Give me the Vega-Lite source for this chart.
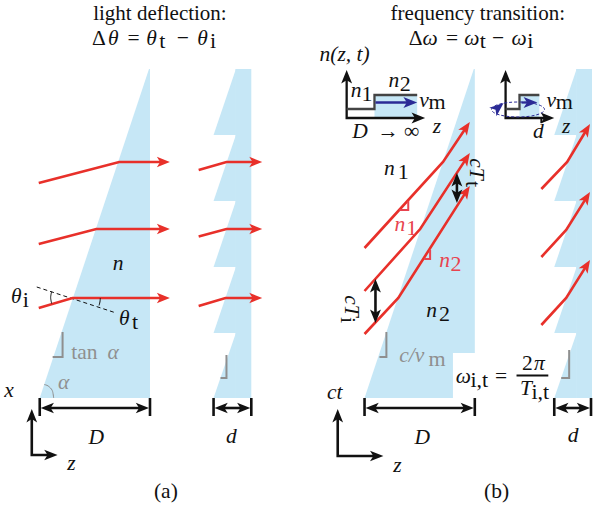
{
  "$schema": "https://vega.github.io/schema/vega-lite/v6.json",
  "width": 597,
  "height": 514,
  "autosize": {"type": "fit", "contains": "padding"},
  "padding": 0,
  "background": "white",
  "config": {"view": {"stroke": null}},
  "resolve": {"scale": {"size": "independent", "angle": "independent", "strokeWidth": "independent"}},
  "datasets": {
    "tri": [
      {"id": "wa", "x": 40, "y": 398, "y2": 398},
      {"id": "wa", "x": 150, "y": 69, "y2": 398},
      {"id": "wa", "x": 151, "y": 69, "y2": 398},
      {"id": "wb", "x": 367, "y": 398, "y2": 398},
      {"id": "wb", "x": 477, "y": 69, "y2": 398},
      {"id": "wb", "x": 478, "y": 69, "y2": 398},
      {"id": "ta1", "x": 215, "y": 135, "y2": 135},
      {"id": "ta1", "x": 237.5, "y": 69, "y2": 135},
      {"id": "ta2", "x": 215, "y": 201, "y2": 201},
      {"id": "ta2", "x": 237.5, "y": 135, "y2": 201},
      {"id": "ta3", "x": 215, "y": 267, "y2": 267},
      {"id": "ta3", "x": 237.5, "y": 201, "y2": 267},
      {"id": "ta4", "x": 215, "y": 333, "y2": 333},
      {"id": "ta4", "x": 237.5, "y": 267, "y2": 333},
      {"id": "ta5", "x": 215, "y": 398, "y2": 398},
      {"id": "ta5", "x": 237.5, "y": 333, "y2": 398},
      {"id": "tb1", "x": 558, "y": 135, "y2": 135},
      {"id": "tb1", "x": 580.5, "y": 69, "y2": 135},
      {"id": "tb2", "x": 558, "y": 201, "y2": 201},
      {"id": "tb2", "x": 580.5, "y": 135, "y2": 201},
      {"id": "tb3", "x": 558, "y": 267, "y2": 267},
      {"id": "tb3", "x": 580.5, "y": 201, "y2": 267},
      {"id": "tb4", "x": 558, "y": 333, "y2": 333},
      {"id": "tb4", "x": 580.5, "y": 267, "y2": 333},
      {"id": "tb5", "x": 558, "y": 398, "y2": 398},
      {"id": "tb5", "x": 580.5, "y": 333, "y2": 398}
    ],
    "rects": [
      {"x": 237, "x2": 253, "y": 69, "y2": 398, "c": "blue"},
      {"x": 580, "x2": 596, "y": 69, "y2": 398, "c": "blue"},
      {"x": 377, "x2": 420, "y": 95, "y2": 118, "c": "blue"},
      {"x": 523, "x2": 543, "y": 95, "y2": 118, "c": "blue"},
      {"x": 456, "x2": 555, "y": 353, "y2": 401, "c": "white"}
    ],
    "dashes": [
      {"id": "n", "o": 1, "x": 37, "y": 287},
      {"id": "n", "o": 2, "x": 117, "y": 313}
    ],
    "lines": [
      {"id": "a1", "o": 1, "x": 39, "y": 183, "c": "red", "w": "thick"},
      {"id": "a1", "o": 2, "x": 120, "y": 162, "c": "red", "w": "thick"},
      {"id": "a1", "o": 3, "x": 164, "y": 162, "c": "red", "w": "thick"},
      {"id": "a2", "o": 1, "x": 39, "y": 244, "c": "red", "w": "thick"},
      {"id": "a2", "o": 2, "x": 97, "y": 229, "c": "red", "w": "thick"},
      {"id": "a2", "o": 3, "x": 164, "y": 229, "c": "red", "w": "thick"},
      {"id": "a3", "o": 1, "x": 39, "y": 308, "c": "red", "w": "thick"},
      {"id": "a3", "o": 2, "x": 73, "y": 298, "c": "red", "w": "thick"},
      {"id": "a3", "o": 3, "x": 164, "y": 298, "c": "red", "w": "thick"},
      {"id": "a4", "o": 1, "x": 200, "y": 170, "c": "red", "w": "thick"},
      {"id": "a4", "o": 2, "x": 228, "y": 162, "c": "red", "w": "thick"},
      {"id": "a4", "o": 3, "x": 257, "y": 162, "c": "red", "w": "thick"},
      {"id": "a5", "o": 1, "x": 200, "y": 236.5, "c": "red", "w": "thick"},
      {"id": "a5", "o": 2, "x": 228, "y": 229, "c": "red", "w": "thick"},
      {"id": "a5", "o": 3, "x": 257, "y": 229, "c": "red", "w": "thick"},
      {"id": "a6", "o": 1, "x": 200, "y": 306, "c": "red", "w": "thick"},
      {"id": "a6", "o": 2, "x": 227, "y": 298, "c": "red", "w": "thick"},
      {"id": "a6", "o": 3, "x": 257, "y": 298, "c": "red", "w": "thick"},
      {"id": "b1", "o": 1, "x": 367, "y": 248, "c": "red", "w": "thick"},
      {"id": "b1", "o": 2, "x": 446, "y": 162, "c": "red", "w": "thick"},
      {"id": "b1", "o": 3, "x": 469.1, "y": 127.8, "c": "red", "w": "thick"},
      {"id": "b2", "o": 1, "x": 367, "y": 291, "c": "red", "w": "thick"},
      {"id": "b2", "o": 2, "x": 423, "y": 229, "c": "red", "w": "thick"},
      {"id": "b2", "o": 3, "x": 469.2, "y": 158.9, "c": "red", "w": "thick"},
      {"id": "b3", "o": 1, "x": 367, "y": 334, "c": "red", "w": "thick"},
      {"id": "b3", "o": 2, "x": 401, "y": 298, "c": "red", "w": "thick"},
      {"id": "b3", "o": 3, "x": 469.2, "y": 191.9, "c": "red", "w": "thick"},
      {"id": "c1", "o": 1, "x": 545, "y": 189, "c": "red", "w": "thick"},
      {"id": "c1", "o": 2, "x": 571, "y": 162, "c": "red", "w": "thick"},
      {"id": "c1", "o": 3, "x": 590.4, "y": 130, "c": "red", "w": "thick"},
      {"id": "c2", "o": 1, "x": 545, "y": 257, "c": "red", "w": "thick"},
      {"id": "c2", "o": 2, "x": 570, "y": 230, "c": "red", "w": "thick"},
      {"id": "c2", "o": 3, "x": 590.3, "y": 197.9, "c": "red", "w": "thick"},
      {"id": "c3", "o": 1, "x": 545, "y": 325, "c": "red", "w": "thick"},
      {"id": "c3", "o": 2, "x": 570, "y": 298, "c": "red", "w": "thick"},
      {"id": "c3", "o": 3, "x": 590.3, "y": 265.9, "c": "red", "w": "thick"},
      {"id": "Da", "o": 1, "x": 47, "y": 408, "c": "k", "w": "thick"},
      {"id": "Da", "o": 2, "x": 144, "y": 408, "c": "k", "w": "thick"},
      {"id": "Dat1", "o": 1, "x": 40, "y": 398, "c": "k", "w": "thick"},
      {"id": "Dat1", "o": 2, "x": 40, "y": 416, "c": "k", "w": "thick"},
      {"id": "Dat2", "o": 1, "x": 151, "y": 398, "c": "k", "w": "thick"},
      {"id": "Dat2", "o": 2, "x": 151, "y": 416, "c": "k", "w": "thick"},
      {"id": "da", "o": 1, "x": 222, "y": 408, "c": "k", "w": "thick"},
      {"id": "da", "o": 2, "x": 246, "y": 408, "c": "k", "w": "thick"},
      {"id": "dat1", "o": 1, "x": 215, "y": 398, "c": "k", "w": "thick"},
      {"id": "dat1", "o": 2, "x": 215, "y": 416, "c": "k", "w": "thick"},
      {"id": "dat2", "o": 1, "x": 253, "y": 398, "c": "k", "w": "thick"},
      {"id": "dat2", "o": 2, "x": 253, "y": 416, "c": "k", "w": "thick"},
      {"id": "Db", "o": 1, "x": 374, "y": 408, "c": "k", "w": "thick"},
      {"id": "Db", "o": 2, "x": 471, "y": 408, "c": "k", "w": "thick"},
      {"id": "Dbt1", "o": 1, "x": 367, "y": 398, "c": "k", "w": "thick"},
      {"id": "Dbt1", "o": 2, "x": 367, "y": 416, "c": "k", "w": "thick"},
      {"id": "Dbt2", "o": 1, "x": 478, "y": 398, "c": "k", "w": "thick"},
      {"id": "Dbt2", "o": 2, "x": 478, "y": 416, "c": "k", "w": "thick"},
      {"id": "db", "o": 1, "x": 565, "y": 408, "c": "k", "w": "thick"},
      {"id": "db", "o": 2, "x": 588, "y": 408, "c": "k", "w": "thick"},
      {"id": "dbt1", "o": 1, "x": 558, "y": 398, "c": "k", "w": "thick"},
      {"id": "dbt1", "o": 2, "x": 558, "y": 416, "c": "k", "w": "thick"},
      {"id": "dbt2", "o": 1, "x": 595, "y": 398, "c": "k", "w": "thick"},
      {"id": "dbt2", "o": 2, "x": 595, "y": 416, "c": "k", "w": "thick"},
      {"id": "axa", "o": 1, "x": 32, "y": 416, "c": "k", "w": "thick"},
      {"id": "axa", "o": 2, "x": 32, "y": 455, "c": "k", "w": "thick"},
      {"id": "axa", "o": 3, "x": 51, "y": 455, "c": "k", "w": "thick"},
      {"id": "axb", "o": 1, "x": 340, "y": 416, "c": "k", "w": "thick"},
      {"id": "axb", "o": 2, "x": 340, "y": 456, "c": "k", "w": "thick"},
      {"id": "axb", "o": 3, "x": 379, "y": 456, "c": "k", "w": "thick"},
      {"id": "cTt", "o": 1, "x": 460, "y": 178, "c": "k", "w": "thick"},
      {"id": "cTt", "o": 2, "x": 460, "y": 198, "c": "k", "w": "thick"},
      {"id": "cTi", "o": 1, "x": 378, "y": 284, "c": "k", "w": "thick"},
      {"id": "cTi", "o": 2, "x": 378, "y": 318, "c": "k", "w": "thick"},
      {"id": "ia1", "o": 1, "x": 349, "y": 75, "c": "k", "w": "mid"},
      {"id": "ia1", "o": 2, "x": 349, "y": 118, "c": "k", "w": "mid"},
      {"id": "ia1", "o": 3, "x": 423, "y": 118, "c": "k", "w": "mid"},
      {"id": "ia2", "o": 1, "x": 509, "y": 75, "c": "k", "w": "mid"},
      {"id": "ia2", "o": 2, "x": 509, "y": 118, "c": "k", "w": "mid"},
      {"id": "ia2", "o": 3, "x": 553, "y": 118, "c": "k", "w": "mid"},
      {"id": "itk", "o": 1, "x": 545, "y": 118, "c": "k", "w": "thin"},
      {"id": "itk", "o": 2, "x": 545, "y": 123, "c": "k", "w": "thin"},
      {"id": "s1", "o": 1, "x": 349, "y": 109, "c": "dgray", "w": "mid"},
      {"id": "s1", "o": 2, "x": 377, "y": 109, "c": "dgray", "w": "mid"},
      {"id": "s1", "o": 3, "x": 377, "y": 95, "c": "dgray", "w": "mid"},
      {"id": "s1", "o": 4, "x": 420, "y": 95, "c": "dgray", "w": "mid"},
      {"id": "s2", "o": 1, "x": 509, "y": 109, "c": "dgray", "w": "mid"},
      {"id": "s2", "o": 2, "x": 523, "y": 109, "c": "dgray", "w": "mid"},
      {"id": "s2", "o": 3, "x": 523, "y": 95, "c": "dgray", "w": "mid"},
      {"id": "s2", "o": 4, "x": 543, "y": 95, "c": "dgray", "w": "mid"},
      {"id": "nv1", "o": 1, "x": 378, "y": 102.5, "c": "navy", "w": "mid"},
      {"id": "nv1", "o": 2, "x": 415, "y": 102.5, "c": "navy", "w": "mid"},
      {"id": "nv2", "o": 1, "x": 525, "y": 102.5, "c": "navy", "w": "mid"},
      {"id": "nv2", "o": 2, "x": 537, "y": 102.5, "c": "navy", "w": "mid"},
      {"id": "g1", "o": 1, "x": 63, "y": 332, "c": "gray", "w": "thin"},
      {"id": "g1", "o": 2, "x": 63, "y": 357, "c": "gray", "w": "thin"},
      {"id": "g1", "o": 3, "x": 53, "y": 357, "c": "gray", "w": "thin"},
      {"id": "g2", "o": 1, "x": 228, "y": 355, "c": "gray", "w": "thin"},
      {"id": "g2", "o": 2, "x": 228, "y": 378, "c": "gray", "w": "thin"},
      {"id": "g2", "o": 3, "x": 222, "y": 378, "c": "gray", "w": "thin"},
      {"id": "g3", "o": 1, "x": 389, "y": 332, "c": "gray", "w": "thin"},
      {"id": "g3", "o": 2, "x": 389, "y": 357, "c": "gray", "w": "thin"},
      {"id": "g3", "o": 3, "x": 382, "y": 357, "c": "gray", "w": "thin"},
      {"id": "g4", "o": 1, "x": 573, "y": 350, "c": "gray", "w": "thin"},
      {"id": "g4", "o": 2, "x": 573, "y": 378, "c": "gray", "w": "thin"},
      {"id": "g4", "o": 3, "x": 565, "y": 378, "c": "gray", "w": "thin"},
      {"id": "rm1", "o": 1, "x": 411, "y": 201, "c": "rlab", "w": "thin"},
      {"id": "rm1", "o": 2, "x": 411, "y": 210, "c": "rlab", "w": "thin"},
      {"id": "rm1", "o": 3, "x": 402, "y": 210, "c": "rlab", "w": "thin"},
      {"id": "rm2", "o": 1, "x": 433, "y": 250, "c": "rlab", "w": "thin"},
      {"id": "rm2", "o": 2, "x": 433, "y": 259, "c": "rlab", "w": "thin"},
      {"id": "rm2", "o": 3, "x": 427, "y": 259, "c": "rlab", "w": "thin"},
      {"id": "fb", "o": 1, "x": 520, "y": 375.5, "c": "k", "w": "thin"},
      {"id": "fb", "o": 2, "x": 552, "y": 375.5, "c": "k", "w": "thin"}
    ],
    "arcs": [
      {"id": "ti", "o": 1, "x": 52, "y": 291.5, "c": "k"},
      {"id": "ti", "o": 2, "x": 51, "y": 297.5, "c": "k"},
      {"id": "ti", "o": 3, "x": 52, "y": 303.5, "c": "k"},
      {"id": "tt", "o": 1, "x": 101, "y": 298, "c": "k"},
      {"id": "tt", "o": 2, "x": 100.6, "y": 302, "c": "k"},
      {"id": "tt", "o": 3, "x": 99.7, "y": 305.5, "c": "k"},
      {"id": "al", "o": 1, "x": 54, "y": 398, "c": "gray"},
      {"id": "al", "o": 2, "x": 52.6, "y": 390.5, "c": "gray"},
      {"id": "al", "o": 3, "x": 48.5, "y": 386, "c": "gray"},
      {"id": "al", "o": 4, "x": 44.5, "y": 384.5, "c": "gray"}
    ],
    "heads": [
      {"x": 171, "y": 162, "d": 0, "k": "r", "c": "red"},
      {"x": 171, "y": 229, "d": 0, "k": "r", "c": "red"},
      {"x": 171, "y": 298, "d": 0, "k": "r", "c": "red"},
      {"x": 264, "y": 162, "d": 0, "k": "r", "c": "red"},
      {"x": 264, "y": 229, "d": 0, "k": "r", "c": "red"},
      {"x": 264, "y": 298, "d": 0, "k": "r", "c": "red"},
      {"x": 473, "y": 122, "d": 304, "k": "r", "c": "red"},
      {"x": 473, "y": 153, "d": 303, "k": "r", "c": "red"},
      {"x": 473, "y": 186, "d": 303, "k": "r", "c": "red"},
      {"x": 594, "y": 124, "d": 301, "k": "r", "c": "red"},
      {"x": 594, "y": 192, "d": 302, "k": "r", "c": "red"},
      {"x": 594, "y": 260, "d": 302, "k": "r", "c": "red"},
      {"x": 41, "y": 408, "d": 180, "k": "dim", "c": "k"},
      {"x": 150, "y": 408, "d": 0, "k": "dim", "c": "k"},
      {"x": 216, "y": 408, "d": 180, "k": "dim", "c": "k"},
      {"x": 252, "y": 408, "d": 0, "k": "dim", "c": "k"},
      {"x": 368, "y": 408, "d": 180, "k": "dim", "c": "k"},
      {"x": 477, "y": 408, "d": 0, "k": "dim", "c": "k"},
      {"x": 559, "y": 408, "d": 180, "k": "dim", "c": "k"},
      {"x": 594, "y": 408, "d": 0, "k": "dim", "c": "k"},
      {"x": 32, "y": 409, "d": 270, "k": "ax", "c": "k"},
      {"x": 58, "y": 455, "d": 0, "k": "ax", "c": "k"},
      {"x": 340, "y": 409, "d": 270, "k": "ax", "c": "k"},
      {"x": 386, "y": 456, "d": 0, "k": "ax", "c": "k"},
      {"x": 349, "y": 70, "d": 270, "k": "sm", "c": "k"},
      {"x": 428, "y": 118, "d": 0, "k": "sm", "c": "k"},
      {"x": 509, "y": 70, "d": 270, "k": "sm", "c": "k"},
      {"x": 558, "y": 118, "d": 0, "k": "sm", "c": "k"},
      {"x": 460, "y": 173, "d": 270, "k": "sm", "c": "k"},
      {"x": 460, "y": 203, "d": 90, "k": "sm", "c": "k"},
      {"x": 378, "y": 279, "d": 270, "k": "sm", "c": "k"},
      {"x": 378, "y": 323, "d": 90, "k": "sm", "c": "k"},
      {"x": 420, "y": 102.5, "d": 0, "k": "bl", "c": "navy"},
      {"x": 541, "y": 102.5, "d": 0, "k": "bl", "c": "navy"},
      {"x": 507, "y": 103, "d": 320, "k": "tiny", "c": "navy"}
    ],
    "ell": [{"x": 521.5, "y": 109.5}],
    "labels": [
      {"t": "light deflection:", "x": 161, "y": 20, "s": "r", "k": "title", "c": "k", "a": 0},
      {"t": "frequency transition:", "x": 481, "y": 20, "s": "r", "k": "title", "c": "k", "a": 0},
      {"t": "Δ", "x": 99.5, "y": 45, "s": "r", "k": "main", "c": "k", "a": 0},
      {"t": "θ", "x": 114, "y": 45, "s": "i", "k": "main", "c": "k", "a": 0},
      {"t": "=", "x": 134.5, "y": 45, "s": "r", "k": "main", "c": "k", "a": 0},
      {"t": "θ", "x": 152.5, "y": 45, "s": "i", "k": "main", "c": "k", "a": 0},
      {"t": "t", "x": 163.5, "y": 48, "s": "r", "k": "sub", "c": "k", "a": 0},
      {"t": "−", "x": 184, "y": 45, "s": "r", "k": "main", "c": "k", "a": 0},
      {"t": "θ", "x": 204, "y": 45, "s": "i", "k": "main", "c": "k", "a": 0},
      {"t": "i", "x": 214.5, "y": 48, "s": "r", "k": "sub", "c": "k", "a": 0},
      {"t": "Δ", "x": 418.5, "y": 45, "s": "r", "k": "main", "c": "k", "a": 0},
      {"t": "ω", "x": 433, "y": 45, "s": "i", "k": "main", "c": "k", "a": 0},
      {"t": "=", "x": 455, "y": 45, "s": "r", "k": "main", "c": "k", "a": 0},
      {"t": "ω", "x": 475, "y": 45, "s": "i", "k": "main", "c": "k", "a": 0},
      {"t": "t", "x": 486, "y": 48, "s": "r", "k": "sub", "c": "k", "a": 0},
      {"t": "−", "x": 501.5, "y": 45, "s": "r", "k": "main", "c": "k", "a": 0},
      {"t": "ω", "x": 522.5, "y": 45, "s": "i", "k": "main", "c": "k", "a": 0},
      {"t": "i", "x": 534, "y": 48, "s": "r", "k": "sub", "c": "k", "a": 0},
      {"t": "n", "x": 119, "y": 270, "s": "i", "k": "main", "c": "k", "a": 0},
      {"t": "θ", "x": 16.5, "y": 303, "s": "i", "k": "main", "c": "k", "a": 0},
      {"t": "i", "x": 26, "y": 307, "s": "r", "k": "sub", "c": "k", "a": 0},
      {"t": "θ", "x": 125, "y": 325, "s": "i", "k": "main", "c": "k", "a": 0},
      {"t": "t", "x": 136, "y": 329, "s": "r", "k": "sub", "c": "k", "a": 0},
      {"t": "tan", "x": 85, "y": 359, "s": "r", "k": "main", "c": "gray", "a": 0},
      {"t": "α", "x": 114, "y": 359, "s": "i", "k": "main", "c": "gray", "a": 0},
      {"t": "α", "x": 64, "y": 389, "s": "i", "k": "main", "c": "gray", "a": 0},
      {"t": "x", "x": 9, "y": 397, "s": "i", "k": "main", "c": "k", "a": 0},
      {"t": "z", "x": 72, "y": 470, "s": "i", "k": "main", "c": "k", "a": 0},
      {"t": "D", "x": 97, "y": 444, "s": "i", "k": "main", "c": "k", "a": 0},
      {"t": "d", "x": 233, "y": 443, "s": "i", "k": "main", "c": "k", "a": 0},
      {"t": "(a)", "x": 167, "y": 498, "s": "r", "k": "main", "c": "k", "a": 0},
      {"t": "n(z, t)", "x": 347, "y": 61, "s": "i", "k": "main", "c": "k", "a": 0},
      {"t": "n", "x": 358.5, "y": 97, "s": "i", "k": "main", "c": "k", "a": 0},
      {"t": "1", "x": 369.5, "y": 101, "s": "r", "k": "sub", "c": "k", "a": 0},
      {"t": "n", "x": 396.5, "y": 87, "s": "i", "k": "main", "c": "k", "a": 0},
      {"t": "2", "x": 408, "y": 91, "s": "r", "k": "sub", "c": "k", "a": 0},
      {"t": "v", "x": 427, "y": 107, "s": "i", "k": "main", "c": "k", "a": 0},
      {"t": "m", "x": 440, "y": 109, "s": "r", "k": "sub", "c": "k", "a": 0},
      {"t": "z", "x": 440, "y": 133, "s": "i", "k": "main", "c": "k", "a": 0},
      {"t": "D", "x": 362.5, "y": 138, "s": "i", "k": "main", "c": "k", "a": 0},
      {"t": "→ ∞", "x": 401, "y": 138, "s": "r", "k": "main", "c": "k", "a": 0},
      {"t": "v", "x": 555, "y": 107, "s": "i", "k": "main", "c": "k", "a": 0},
      {"t": "m", "x": 568, "y": 109, "s": "r", "k": "sub", "c": "k", "a": 0},
      {"t": "z", "x": 570, "y": 133, "s": "i", "k": "main", "c": "k", "a": 0},
      {"t": "d", "x": 542, "y": 138, "s": "i", "k": "main", "c": "k", "a": 0},
      {"t": "n", "x": 392, "y": 175, "s": "i", "k": "main", "c": "k", "a": 0},
      {"t": "1", "x": 406, "y": 179, "s": "r", "k": "sub", "c": "k", "a": 0},
      {"t": "n", "x": 402.5, "y": 231, "s": "i", "k": "main", "c": "rlab", "a": 0},
      {"t": "1", "x": 414.5, "y": 235, "s": "r", "k": "sub", "c": "rlab", "a": 0},
      {"t": "n", "x": 447.5, "y": 267, "s": "i", "k": "main", "c": "rlab", "a": 0},
      {"t": "2", "x": 459, "y": 271, "s": "r", "k": "sub", "c": "rlab", "a": 0},
      {"t": "n", "x": 434.5, "y": 317, "s": "i", "k": "main", "c": "k", "a": 0},
      {"t": "2", "x": 447.5, "y": 321, "s": "r", "k": "sub", "c": "k", "a": 0},
      {"t": "cT", "x": 473, "y": 169, "s": "i", "k": "main", "c": "k", "a": 90},
      {"t": "t", "x": 469, "y": 184, "s": "r", "k": "sub", "c": "k", "a": 90},
      {"t": "cT", "x": 347, "y": 306, "s": "i", "k": "main", "c": "k", "a": 90},
      {"t": "i", "x": 343, "y": 320, "s": "r", "k": "sub", "c": "k", "a": 90},
      {"t": "c/v", "x": 414.5, "y": 362, "s": "i", "k": "main", "c": "gray", "a": 0},
      {"t": "m", "x": 440, "y": 366, "s": "r", "k": "sub", "c": "gray", "a": 0},
      {"t": "ω", "x": 466.5, "y": 383, "s": "i", "k": "main", "c": "k", "a": 0},
      {"t": "i,t", "x": 482.5, "y": 387, "s": "r", "k": "sub", "c": "k", "a": 0},
      {"t": "=", "x": 504.5, "y": 383, "s": "r", "k": "main", "c": "k", "a": 0},
      {"t": "2", "x": 531, "y": 370, "s": "r", "k": "main", "c": "k", "a": 0},
      {"t": "π", "x": 543, "y": 370, "s": "i", "k": "main", "c": "k", "a": 0},
      {"t": "T", "x": 529.5, "y": 395, "s": "i", "k": "main", "c": "k", "a": 0},
      {"t": "i,t", "x": 544, "y": 399, "s": "r", "k": "sub", "c": "k", "a": 0},
      {"t": "ct", "x": 337, "y": 399, "s": "i", "k": "main", "c": "k", "a": 0},
      {"t": "z", "x": 400, "y": 472, "s": "i", "k": "main", "c": "k", "a": 0},
      {"t": "D", "x": 425, "y": 444, "s": "i", "k": "main", "c": "k", "a": 0},
      {"t": "d", "x": 577, "y": 442, "s": "i", "k": "main", "c": "k", "a": 0},
      {"t": "(b)", "x": 500, "y": 498, "s": "r", "k": "main", "c": "k", "a": 0}
    ]
  },
  "layer": [
    {
      "data": {"name": "tri"},
      "mark": {"type": "area", "color": "#c6e7f6", "opacity": 1, "line": false},
      "encoding": {
        "x": {"field": "x", "type": "quantitative", "scale": {"domain": [0, 597], "nice": false, "zero": false}, "axis": null},
        "y": {"field": "y", "type": "quantitative", "stack": null, "scale": {"domain": [0, 514], "nice": false, "zero": false, "reverse": true}, "axis": null},
        "y2": {"field": "y2"},
        "detail": {"field": "id", "type": "nominal"}
      }
    },
    {
      "data": {"name": "rects"},
      "mark": {"type": "rect"},
      "encoding": {
        "x": {"field": "x", "type": "quantitative", "scale": {"domain": [0, 597], "nice": false, "zero": false}, "axis": null},
        "x2": {"field": "x2"},
        "y": {"field": "y", "type": "quantitative", "scale": {"domain": [0, 514], "nice": false, "zero": false, "reverse": true}, "axis": null},
        "y2": {"field": "y2"},
        "color": {"field": "c", "type": "nominal", "scale": {"domain": ["k", "gray", "red", "rlab", "navy", "dgray", "blue", "white"], "range": ["#111111", "#8f8f8f", "#e8302a", "#e8434f", "#2b2b96", "#444444", "#c6e7f6", "#ffffff"]}, "legend": null}
      }
    },
    {
      "data": {"name": "dashes"},
      "mark": {"type": "line", "strokeDash": [4, 3], "strokeWidth": 1, "color": "#111111"},
      "encoding": {
        "x": {"field": "x", "type": "quantitative", "scale": {"domain": [0, 597], "nice": false, "zero": false}, "axis": null},
        "y": {"field": "y", "type": "quantitative", "scale": {"domain": [0, 514], "nice": false, "zero": false, "reverse": true}, "axis": null},
        "detail": {"field": "id", "type": "nominal"},
        "order": {"field": "o", "type": "quantitative"}
      }
    },
    {
      "data": {"name": "lines"},
      "mark": {"type": "line", "strokeJoin": "miter"},
      "encoding": {
        "x": {"field": "x", "type": "quantitative", "scale": {"domain": [0, 597], "nice": false, "zero": false}, "axis": null},
        "y": {"field": "y", "type": "quantitative", "scale": {"domain": [0, 514], "nice": false, "zero": false, "reverse": true}, "axis": null},
        "detail": {"field": "id", "type": "nominal"},
        "order": {"field": "o", "type": "quantitative"},
        "color": {"field": "c", "type": "nominal", "scale": {"domain": ["k", "gray", "red", "rlab", "navy", "dgray", "blue", "white"], "range": ["#111111", "#8f8f8f", "#e8302a", "#e8434f", "#2b2b96", "#444444", "#c6e7f6", "#ffffff"]}, "legend": null},
        "strokeWidth": {"field": "w", "type": "ordinal", "scale": {"domain": ["thick", "mid", "thin"], "range": [2.6, 2, 1.2]}, "legend": null}
      }
    },
    {
      "data": {"name": "arcs"},
      "mark": {"type": "line", "interpolate": "cardinal", "strokeWidth": 1},
      "encoding": {
        "x": {"field": "x", "type": "quantitative", "scale": {"domain": [0, 597], "nice": false, "zero": false}, "axis": null},
        "y": {"field": "y", "type": "quantitative", "scale": {"domain": [0, 514], "nice": false, "zero": false, "reverse": true}, "axis": null},
        "detail": {"field": "id", "type": "nominal"},
        "order": {"field": "o", "type": "quantitative"},
        "color": {"field": "c", "type": "nominal", "scale": {"domain": ["k", "gray", "red", "rlab", "navy", "dgray", "blue", "white"], "range": ["#111111", "#8f8f8f", "#e8302a", "#e8434f", "#2b2b96", "#444444", "#c6e7f6", "#ffffff"]}, "legend": null}
      }
    },
    {
      "data": {"name": "heads"},
      "mark": {"type": "point", "shape": "M0,0L-1,-0.4L-0.75,0L-1,0.4Z", "filled": true, "opacity": 1, "strokeWidth": 0},
      "encoding": {
        "x": {"field": "x", "type": "quantitative", "scale": {"domain": [0, 597], "nice": false, "zero": false}, "axis": null},
        "y": {"field": "y", "type": "quantitative", "scale": {"domain": [0, 514], "nice": false, "zero": false, "reverse": true}, "axis": null},
        "color": {"field": "c", "type": "nominal", "scale": {"domain": ["k", "gray", "red", "rlab", "navy", "dgray", "blue", "white"], "range": ["#111111", "#8f8f8f", "#e8302a", "#e8434f", "#2b2b96", "#444444", "#c6e7f6", "#ffffff"]}, "legend": null},
        "size": {"field": "k", "type": "ordinal", "scale": {"domain": ["r", "dim", "ax", "sm", "bl", "tiny"], "range": [676, 784, 576, 324, 400, 64]}, "legend": null},
        "angle": {"field": "d", "type": "quantitative", "scale": {"domain": [0, 360], "range": [0, 360]}}
      }
    },
    {
      "data": {"name": "ell"},
      "mark": {"type": "point", "shape": "M-1,0C-1,-0.156 -0.552,-0.283 0,-0.283C0.552,-0.283 1,-0.156 1,0C1,0.156 0.552,0.283 0,0.283C-0.552,0.283 -1,0.156 -1,0Z", "filled": false, "opacity": 1, "color": "#2b2b96", "strokeWidth": 1, "strokeDash": [3, 2], "size": 2809},
      "encoding": {
        "x": {"field": "x", "type": "quantitative", "scale": {"domain": [0, 597], "nice": false, "zero": false}, "axis": null},
        "y": {"field": "y", "type": "quantitative", "scale": {"domain": [0, 514], "nice": false, "zero": false, "reverse": true}, "axis": null}
      }
    },
    {
      "data": {"name": "labels"},
      "transform": [{"filter": "datum.s === 'i'"}],
      "mark": {"type": "text", "font": "Liberation Serif, DejaVu Serif, serif", "fontStyle": "italic", "align": "center", "baseline": "alphabetic"},
      "encoding": {
        "x": {"field": "x", "type": "quantitative", "scale": {"domain": [0, 597], "nice": false, "zero": false}, "axis": null},
        "y": {"field": "y", "type": "quantitative", "scale": {"domain": [0, 514], "nice": false, "zero": false, "reverse": true}, "axis": null},
        "text": {"field": "t", "type": "nominal"},
        "color": {"field": "c", "type": "nominal", "scale": {"domain": ["k", "gray", "red", "rlab", "navy", "dgray", "blue", "white"], "range": ["#111111", "#8f8f8f", "#e8302a", "#e8434f", "#2b2b96", "#444444", "#c6e7f6", "#ffffff"]}, "legend": null},
        "size": {"field": "k", "type": "ordinal", "scale": {"domain": ["title", "main", "sub"], "range": [21, 22, 15]}, "legend": null},
        "angle": {"field": "a", "type": "quantitative", "scale": {"domain": [0, 360], "range": [0, 360]}}
      }
    },
    {
      "data": {"name": "labels"},
      "transform": [{"filter": "datum.s === 'r'"}],
      "mark": {"type": "text", "font": "Liberation Serif, DejaVu Serif, serif", "align": "center", "baseline": "alphabetic"},
      "encoding": {
        "x": {"field": "x", "type": "quantitative", "scale": {"domain": [0, 597], "nice": false, "zero": false}, "axis": null},
        "y": {"field": "y", "type": "quantitative", "scale": {"domain": [0, 514], "nice": false, "zero": false, "reverse": true}, "axis": null},
        "text": {"field": "t", "type": "nominal"},
        "color": {"field": "c", "type": "nominal", "scale": {"domain": ["k", "gray", "red", "rlab", "navy", "dgray", "blue", "white"], "range": ["#111111", "#8f8f8f", "#e8302a", "#e8434f", "#2b2b96", "#444444", "#c6e7f6", "#ffffff"]}, "legend": null},
        "size": {"field": "k", "type": "ordinal", "scale": {"domain": ["title", "main", "sub"], "range": [21, 22, 15]}, "legend": null},
        "angle": {"field": "a", "type": "quantitative", "scale": {"domain": [0, 360], "range": [0, 360]}}
      }
    }
  ]
}
